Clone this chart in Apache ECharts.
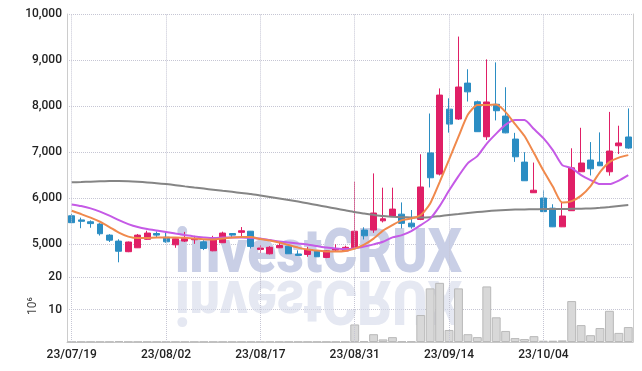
<!DOCTYPE html>
<html><head><meta charset="utf-8">
<script src="https://cdn.jsdelivr.net/npm/echarts@6/dist/echarts.min.js"></script>
<style>html,body{margin:0;padding:0;background:#fff}#c{width:642px;height:371px}</style>
</head><body><div id="c"></div>
<script>
const dates = ['23/07/19','23/07/20','23/07/21','23/07/24','23/07/25','23/07/26','23/07/27','23/07/28','23/07/31','23/08/01',
'23/08/02','23/08/03','23/08/04','23/08/07','23/08/08','23/08/09','23/08/10','23/08/11','23/08/14','23/08/16',
'23/08/17','23/08/18','23/08/21','23/08/22','23/08/23','23/08/24','23/08/25','23/08/28','23/08/29','23/08/30',
'23/08/31','23/09/01','23/09/04','23/09/05','23/09/06','23/09/07','23/09/08','23/09/11','23/09/12','23/09/13',
'23/09/14','23/09/15','23/09/18','23/09/19','23/09/20','23/09/21','23/09/22','23/09/25','23/09/26','23/09/27',
'23/10/04','23/10/05','23/10/06','23/10/10','23/10/11','23/10/12','23/10/13','23/10/16','23/10/17','23/10/18'];
const opens = [5620,5530,5490,5440,5200,5070,4840,4925,5110,5235,5155,4990,5070,5100,5055,4860,5035,5235,5260,5285,4890,4795,4925,4960,4790,4780,4855,4715,4875,4855,4925,5310,5310,5510,5605,5655,5460,5540,6985,6525,7935,7720,8500,8095,7335,8040,7785,7285,6785,6120,6005,5785,5380,5730,6575,6830,6785,6575,7140,7330];
const closes = [5470,5500,5450,5230,5090,4850,5050,5200,5245,5200,5055,5120,5150,5120,4910,5130,5245,5200,5295,4955,4920,4935,4975,4795,4760,4890,4730,4860,4905,4935,5285,5185,5680,5555,5765,5455,5380,6245,6445,8240,7610,8415,8310,7445,8090,7900,7420,6900,6380,6175,5710,5380,5615,6660,6765,6640,6705,7025,7200,7090];
const lows = [5460,5350,5360,5190,5050,4610,4830,4920,5100,5150,5035,4925,5050,5010,4875,4850,5030,5150,5155,4910,4815,4780,4920,4790,4755,4730,4725,4700,4840,4850,4900,5105,5250,5475,5600,5345,5340,5525,6235,6495,7425,7700,8100,7440,7265,7690,7410,6790,6375,6115,5705,5375,5375,5725,6570,6495,6700,6490,6960,7075];
const highs = [5660,5580,5520,5460,5220,5110,5060,5225,5295,5280,5270,5125,5270,5185,5090,5185,5275,5240,5375,5290,4985,4960,5035,5000,4870,4945,4875,4875,5000,4970,6360,5370,6540,6230,6230,5910,5745,6955,7840,8385,8170,9510,8800,8120,9015,8950,8410,7420,7000,6775,6170,5870,5925,7085,7530,7220,7430,7875,7575,7950];
const ma5 = [5728,5657,5581,5490,5376,5255,5168,5136,5136,5147,5147,5151,5142,5125,5110,5103,5125,5147,5157,5157,5114,5081,5038,4984,4929,4886,4864,4843,4843,4854,4908,4995,5125,5298,5418,5526,5559,5635,5889,6351,6840,7339,7816,8023,8023,8033,7871,7610,7350,6981,6601,6253,5906,5939,6058,6265,6568,6785,6883,6937];
const ma20 = [5867,5830,5780,5711,5624,5526,5440,5375,5331,5298,5266,5233,5201,5172,5151,5136,5147,5151,5147,5140,5129,5092,5060,5038,5016,4995,4962,4929,4908,4897,4912,4951,4999,5055,5151,5201,5288,5418,5559,5830,6167,6481,6764,6915,7187,7404,7599,7697,7697,7502,7306,7046,6720,6655,6503,6395,6308,6308,6384,6503];
const ma60 = [6345,6352,6360,6368,6374,6377,6372,6360,6343,6326,6308,6285,6258,6232,6210,6186,6162,6139,6115,6091,6060,6028,5995,5962,5928,5890,5852,5814,5776,5738,5700,5670,5640,5613,5600,5590,5584,5581,5590,5612,5635,5657,5680,5700,5718,5735,5746,5754,5758,5762,5765,5767,5768,5770,5772,5780,5792,5808,5830,5852];
const volumes = [0.1,0.1,0.1,0.1,0.1,0.3,0.1,0.1,0.1,0.1,0.1,0.1,0.1,0.1,0.1,0.1,0.1,0.1,0.1,0.1,0.1,0.1,0.1,0.1,0.1,0.1,0.1,0.1,0.1,0.1,
5.4,0.3,2.4,0.8,1.5,0.2,0.2,8.3,16.5,18.2,3.7,16.5,2.4,1.5,17.1,7.6,3.4,1.2,0.9,1.8,0.4,0.4,0.5,12.6,5.2,2.1,4.3,9.6,2.8,4.6];
const priceTicks = [4000,5000,6000,7000,8000,9000,10000];
const volumeTicks = [0,10,20];
const labelEvery = 10;

const UP = '#e01f66', DOWN = '#2b8dc3';
const GRID = '#c6c6d4';
const chart = echarts.init(document.getElementById('c'), null, {renderer:'canvas'});
const ohlc = dates.map((d,i)=>[opens[i],closes[i],lows[i],highs[i]]);
const vLines = dates.filter((d,i)=>i%labelEvery===0).map(d=>({xAxis:d}));
const markV = {symbol:['none','none'],silent:true,animation:false,label:{show:false},
  lineStyle:{type:'dotted',color:GRID,width:1},data:vLines};

const ctx = document.createElement('canvas').getContext('2d');
const wmFont = '900 62px Roboto';
ctx.font = wmFont;
const wmW = ctx.measureText('investCRUX').width;
const sx = 287/wmW;

const lbl = {fontFamily:'Roboto',fontSize:12,fontWeight:500,color:'#222'};
const option = {
  animation:false,
  backgroundColor:'#fff',
  grid:[{left:67,right:9,top:14,height:276.4},{left:67,right:9,top:277,height:65}],
  xAxis:[
    {type:'category',gridIndex:0,data:dates,boundaryGap:true,axisLine:{show:false},axisTick:{show:false},axisLabel:{show:false},splitLine:{show:false}},
    {type:'category',gridIndex:1,data:dates,boundaryGap:true,axisLine:{show:true,lineStyle:{color:'#c8c8c8'}},axisTick:{show:false},
      axisLabel:Object.assign({interval:(i)=>i%labelEvery===0,margin:7},lbl),splitLine:{show:false}}
  ],
  yAxis:[
    {type:'value',gridIndex:0,min:priceTicks[0],max:priceTicks[priceTicks.length-1],interval:1000,
      axisLine:{show:true,lineStyle:{color:'#cccccc'}},axisTick:{show:false},
      axisLabel:Object.assign({margin:5,formatter:v=>v===priceTicks[0]?'':v.toLocaleString('en-US')},lbl),
      splitLine:{show:true,lineStyle:{type:'dotted',width:1,color:['rgba(0,0,0,0)',GRID,GRID,GRID,GRID,GRID,GRID]}}},
    {type:'value',gridIndex:1,min:volumeTicks[0],max:volumeTicks[2],interval:10,
      axisLine:{show:true,lineStyle:{color:'#cccccc'}},axisTick:{show:false},
      axisLabel:Object.assign({margin:5,formatter:v=>v===0?'':String(v)},lbl),
      splitLine:{show:true,lineStyle:{type:'dotted',width:1,color:['rgba(0,0,0,0)',GRID,GRID]}}},
    {type:'value',gridIndex:0,position:'right',min:priceTicks[0],max:priceTicks[priceTicks.length-1],
      axisLine:{show:true,lineStyle:{color:'#cccccc'}},axisTick:{show:false},axisLabel:{show:false},splitLine:{show:false}},
    {type:'value',gridIndex:1,position:'right',min:0,max:20,
      axisLine:{show:true,lineStyle:{color:'#cccccc'}},axisTick:{show:false},axisLabel:{show:false},splitLine:{show:false}}
  ],
  graphic:[
    {type:'text',x:175,y:256,scaleX:sx,z:1,silent:true,
      style:{text:'investCRUX',font:wmFont,fill:'#c9cfe6',verticalAlign:'middle',align:'left'}},
    {type:'text',x:175,y:296,scaleX:sx,scaleY:-1,z:1,silent:true,
      style:{text:'investCRUX',font:wmFont,fill:'rgba(212,216,234,0.6)',verticalAlign:'middle',align:'left'}},
    {type:'text',x:33,y:306,rotation:Math.PI/2,z:5,silent:true,
      style:{text:'10⁶',font:'12px Roboto',fill:'#444',align:'center',verticalAlign:'middle'}}
  ],
  series:[
    {type:'bar',name:'Volume',xAxisIndex:1,yAxisIndex:1,data:volumes,barCategoryGap:'6%',
      itemStyle:{color:'#d8d8d8',borderColor:'#b9b9b9',borderWidth:1},markLine:markV,z:3},
    {type:'candlestick',name:'Price',xAxisIndex:0,yAxisIndex:0,data:ohlc,barWidth:'68%',
      itemStyle:{color:UP,color0:DOWN,borderColor:UP,borderColor0:DOWN,borderWidth:1},markLine:markV,z:4},
    {type:'line',name:'MA60',xAxisIndex:0,yAxisIndex:0,data:ma60,showSymbol:false,smooth:0.2,
      lineStyle:{color:'#858585',width:2},z:5},
    {type:'line',name:'MA20',xAxisIndex:0,yAxisIndex:0,data:ma20,showSymbol:false,smooth:0.2,
      lineStyle:{color:'#c55ae6',width:2},z:6},
    {type:'line',name:'MA5',xAxisIndex:0,yAxisIndex:0,data:ma5,showSymbol:false,smooth:0.2,
      lineStyle:{color:'#f0894c',width:2},z:7}
  ]
};
chart.setOption(option);
</script></body></html>
